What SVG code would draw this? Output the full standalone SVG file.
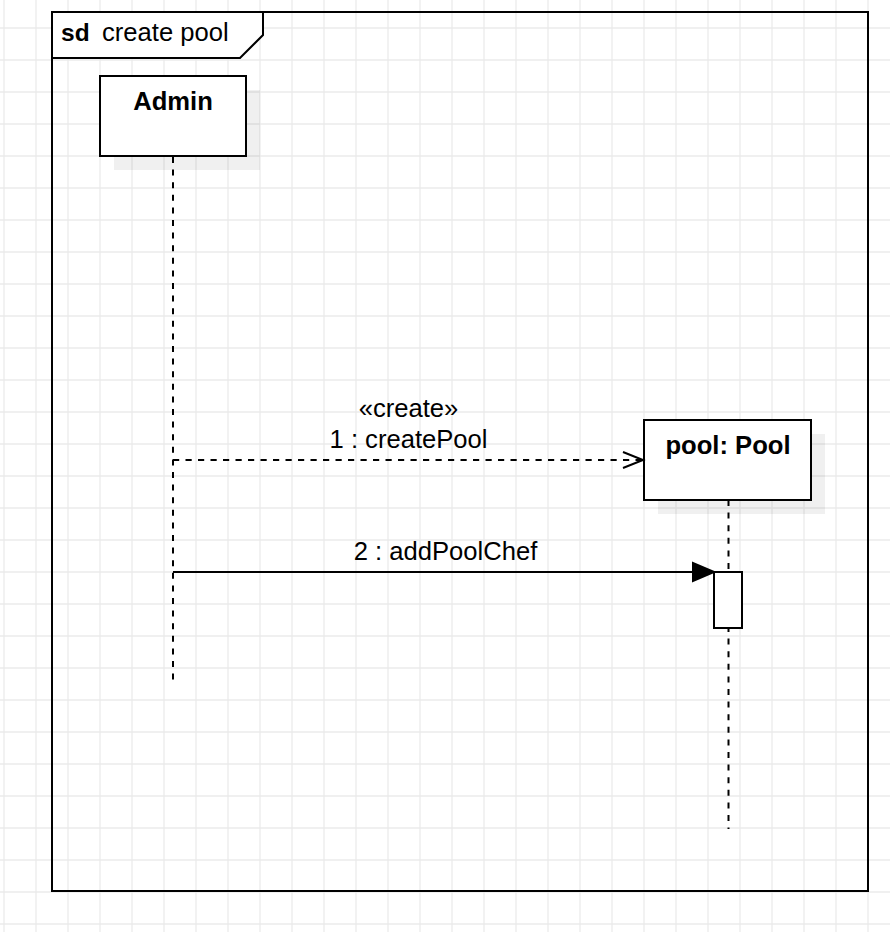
<svg xmlns="http://www.w3.org/2000/svg" width="890" height="932" viewBox="0 0 890 932">
  <defs>
    <pattern id="grid" patternUnits="userSpaceOnUse" x="3" y="27" width="32" height="32">
      <path d="M0 1H32M1 0V32" fill="none" stroke="#ebebeb" stroke-width="1.3"/>
    </pattern>
    <marker id="openArrow" markerUnits="userSpaceOnUse" markerWidth="24" markerHeight="20" refX="21" refY="9" orient="auto">
      <path d="M1 1L21 9L1 17" fill="none" stroke="#000" stroke-width="2"/>
    </marker>
  </defs>
  <style>
    .frame { fill: none; stroke: #000; stroke-width: 2; }
    .box { fill: #fff; stroke: #000; stroke-width: 2; }
    .shadow { fill: #000; fill-opacity: 0.06; }
    .lifeline { fill: none; stroke: #000; stroke-width: 2; stroke-dasharray: 6 6.6; }
    .msg { fill: none; stroke: #000; stroke-width: 2; }
    .dashed { stroke-dasharray: 6.2 6.3; }
    .name { font-family: "Liberation Sans", Arial, sans-serif; font-size: 25.6px; font-weight: bold; text-anchor: middle; fill: #000; }
    .label { font-family: "Liberation Sans", Arial, sans-serif; font-size: 25.6px; text-anchor: middle; fill: #000; }
  </style>

  <rect width="890" height="932" fill="#fff"/>
  <rect width="890" height="932" fill="url(#grid)"/>

  <!-- interaction frame -->
  <g id="frame">
    <rect class="frame" x="52" y="12" width="816" height="879"/>
    <path class="box" d="M52 12H263V35L240 58H52Z"/>
    <text x="61" y="41" font-family="Liberation Sans, Arial, sans-serif" font-size="24.5" font-weight="bold">sd</text>
    <text x="102" y="41" font-family="Liberation Sans, Arial, sans-serif" font-size="25.6">create pool</text>
  </g>

  <!-- lifeline: Admin -->
  <g id="admin">
    <rect class="shadow" x="114" y="90" width="146" height="80"/>
    <rect class="box" x="100" y="76" width="146" height="80"/>
    <text class="name" x="173" y="110">Admin</text>
    <path class="lifeline" d="M173 157V680"/>
  </g>

  <!-- lifeline: pool -->
  <g id="pool">
    <rect class="shadow" x="658" y="434" width="167" height="80"/>
    <rect class="box" x="644" y="420" width="167" height="80"/>
    <text class="name" x="728" y="454">pool: Pool</text>
    <path class="lifeline" d="M728.5 500V829"/>
    <rect class="box" x="714" y="572" width="28" height="56"/>
  </g>

  <!-- messages -->
  <g id="connectors">
    <path class="msg dashed" d="M173 460H643" marker-end="url(#openArrow)"/>
    <text class="label" x="408.5" y="417">«create»</text>
    <text class="label" x="408.5" y="448">1 : createPool</text>

    <path class="msg" d="M173 572H696"/>
    <path d="M714 572L693 563V581Z" fill="#000" stroke="#000" stroke-width="2" stroke-linejoin="miter"/>
    <text class="label" x="445.5" y="560">2 : addPoolChef</text>
  </g>
</svg>
